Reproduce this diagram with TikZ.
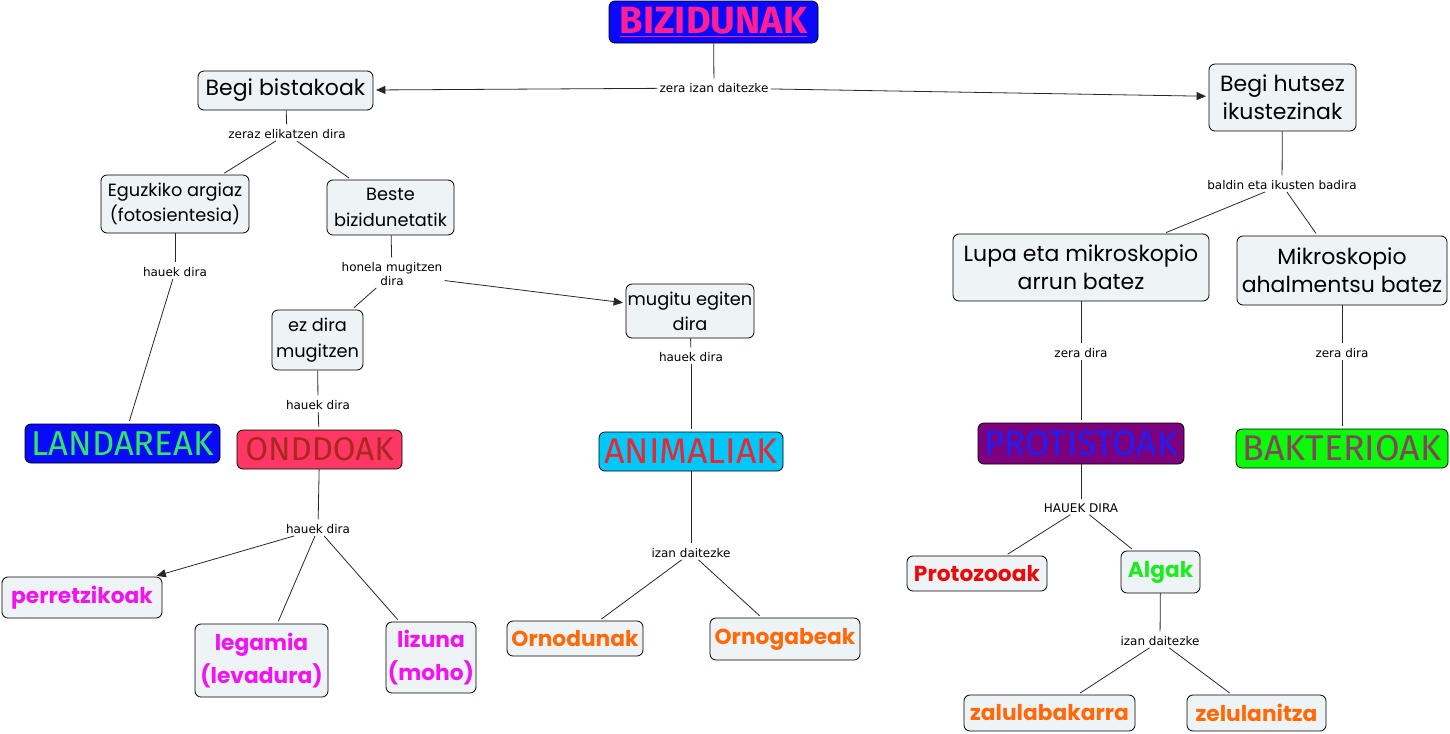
\documentclass[tikz,border=0pt]{standalone}
\usepackage{fontspec}
\setmainfont{Poppins}
\newfontfamily\lblfont{DejaVu Sans}
\newfontfamily\catfont{Fira Sans}
\usetikzlibrary{arrows.meta}
\definecolor{boxfill}{RGB}{238,243,246}
\definecolor{lnk}{RGB}{40,40,40}
\definecolor{bizpink}{RGB}{255,30,150}
\definecolor{purebl}{RGB}{10,10,250}
\definecolor{landgreen}{RGB}{50,230,100}
\definecolor{onddfill}{RGB}{255,55,100}
\definecolor{onddtext}{RGB}{170,40,30}
\definecolor{animfill}{RGB}{0,200,250}
\definecolor{animtext}{RGB}{230,40,50}
\definecolor{protfill}{RGB}{125,0,125}
\definecolor{prottext}{RGB}{30,30,250}
\definecolor{baktfill}{RGB}{10,250,10}
\definecolor{bakttext}{RGB}{130,70,90}
\definecolor{magtext}{RGB}{240,20,240}
\definecolor{redtext}{RGB}{235,10,10}
\definecolor{algtext}{RGB}{30,235,30}
\definecolor{orgtext}{RGB}{255,105,10}
\begin{document}
\begin{tikzpicture}[x=0.75pt,y=-0.75pt,
  base/.style={draw=black,line width=0.6pt,rounded corners=4.5pt,align=center,inner sep=0pt},
  lbox/.style={base,fill=boxfill,font=\fontsize{16.5}{21}\selectfont},
  mbox/.style={base,fill=boxfill,font=\fontsize{13.3}{19}\selectfont},
  sbox/.style={base,fill=boxfill,font=\bfseries\fontsize{16.3}{25}\selectfont},
  cat/.style={base,font=\catfont\fontsize{26}{30}\selectfont},
  lbl/.style={font=\lblfont\fontsize{9}{10.5}\selectfont,align=center,inner sep=1.5pt,text=black},
  con/.style={draw=lnk,line width=0.6pt,shorten >=2pt},
  arr/.style={con,-{Triangle[length=7pt,width=6pt]}}
]
\useasboundingbox (0,0) rectangle (1450,733);
% main nodes
\node[base,fill=purebl,text=bizpink,font=\catfont\bfseries\fontsize{28.5}{32}\selectfont,minimum width=156.75pt,minimum height=31.5pt] (biz) at (713.5,22) {\underline{BIZIDUNAK}};
\node[lbox,minimum width=131.25pt,minimum height=29.25pt] (bist) at (285.5,90.5) {Begi bistakoak};
\node[lbox,minimum width=110.25pt,minimum height=50.25pt] (hutsez) at (1282.5,97.5) {Begi hutsez\\ikustezinak};
\node[mbox,minimum width=111pt,minimum height=43.5pt] (eguz) at (175,204) {Eguzkiko argiaz\\(fotosientesia)};
\node[mbox,minimum width=95.25pt,minimum height=41.25pt] (beste) at (390.5,207.5) {Beste\\bizidunetatik};
\node[mbox,minimum width=68.25pt,minimum height=45pt] (ezdira) at (317.5,340) {ez dira\\mugitzen};
\node[mbox,minimum width=96pt,minimum height=40.5pt] (mugitu) at (690,311) {mugitu egiten\\dira};
\node[cat,fill=purebl,text=landgreen,font=\catfont\fontsize{25.9}{30}\selectfont,minimum width=146.25pt,minimum height=29.25pt] (land) at (122.5,443.5) {LANDAREAK};
\node[cat,fill=onddfill,text=onddtext,font=\catfont\fontsize{24.7}{30}\selectfont,minimum width=123.75pt,minimum height=29.25pt] (ondd) at (319.5,449.5) {ONDDOAK};
\node[cat,fill=animfill,text=animtext,font=\catfont\fontsize{26.8}{30}\selectfont,minimum width=138pt,minimum height=29.25pt] (anim) at (691,451.5) {ANIMALIAK};
\node[sbox,text=magtext,minimum width=120pt,minimum height=30.75pt] (perr) at (82,597.5) {perretzikoak};
\node[sbox,text=magtext,minimum width=99.75pt,minimum height=54.75pt] (leg) at (261.5,660.5) {legamia\\(levadura)};
\node[sbox,text=magtext,minimum width=67.5pt,minimum height=53.25pt] (liz) at (431,657.5) {lizuna\\(moho)};
\node[sbox,text=orgtext,minimum width=102pt,minimum height=26.25pt] (ornod) at (575,638.5) {Ornodunak};
\node[sbox,text=orgtext,minimum width=112.5pt,minimum height=31.5pt] (ornog) at (785,639) {Ornogabeak};
\node[lbox,minimum width=192pt,minimum height=50.25pt] (lupa) at (1081,267.5) {Lupa eta mikroskopio\\arrun batez};
\node[lbox,minimum width=157.5pt,minimum height=51.75pt] (mikro) at (1342,270.5) {Mikroskopio\\ahalmentsu batez};
\node[cat,fill=protfill,text=prottext,font=\catfont\fontsize{26.4}{30}\selectfont,minimum width=154.5pt,minimum height=30.75pt] (prot) at (1081,443.5) {PROTISTOAK};
\node[cat,fill=baktfill,text=bakttext,font=\catfont\fontsize{26.8}{30}\selectfont,minimum width=159pt,minimum height=29.25pt] (bakt) at (1342,448.5) {BAKTERIOAK};
\node[sbox,text=redtext,minimum width=105pt,minimum height=26.25pt] (protoz) at (977,573.5) {Protozooak};
\node[sbox,text=algtext,minimum width=59.25pt,minimum height=31.5pt] (algak) at (1160.5,572) {Algak};
\node[sbox,text=orgtext,minimum width=128.25pt,minimum height=27pt] (zalu) at (1049.5,713) {zalulabakarra};
\node[sbox,text=orgtext,minimum width=104.25pt,minimum height=27pt] (zelu) at (1256.5,713) {zelulanitza};
% link labels
\node[lbl] (l1) at (714,88) {zera izan daitezke};
\node[lbl] (l2) at (287,134) {zeraz elikatzen dira};
\node[lbl] (l3) at (175,272) {hauek dira};
\node[lbl] (l4) at (392,274) {honela mugitzen\\dira};
\node[lbl] (l5) at (318,405) {hauek dira};
\node[lbl] (l6) at (691,357) {hauek dira};
\node[lbl] (l7) at (318,529) {hauek dira};
\node[lbl] (l8) at (691,553) {izan daitezke};
\node[lbl] (l9) at (1282,185) {baldin eta ikusten badira};
\node[lbl] (l10) at (1081,353) {zera dira};
\node[lbl] (l11) at (1342,353) {zera dira};
\node[lbl] (l12) at (1081,508) {HAUEK DIRA};
\node[lbl] (l13) at (1160,641) {izan daitezke};
% connectors
\draw[con] (biz) -- (l1);
\draw[arr] (l1) -- (bist);
\draw[arr] (l1) -- (hutsez);
\draw[con] (bist) -- (l2);
\draw[con] (l2) -- (eguz);
\draw[con] (l2) -- (beste);
\draw[con] (eguz) -- (l3);
\draw[con] (l3) -- (land);
\draw[con] (beste) -- (l4);
\draw[con] (l4) -- (ezdira);
\draw[arr] (l4) -- (mugitu);
\draw[con] (ezdira) -- (l5);
\draw[con] (l5) -- (ondd);
\draw[con] (mugitu) -- (l6);
\draw[con] (l6) -- (anim);
\draw[con] (ondd) -- (l7);
\draw[arr] (l7) -- (perr);
\draw[con] (l7) -- (leg);
\draw[con] (l7) -- (liz);
\draw[con] (anim) -- (l8);
\draw[con] (l8) -- (ornod);
\draw[con] (l8) -- (ornog);
\draw[con] (hutsez) -- (l9);
\draw[con] (l9) -- (lupa);
\draw[con] (l9) -- (mikro);
\draw[con] (lupa) -- (l10);
\draw[con] (l10) -- (prot);
\draw[con] (mikro) -- (l11);
\draw[con] (l11) -- (bakt);
\draw[con] (prot) -- (l12);
\draw[con] (l12) -- (protoz);
\draw[con] (l12) -- (algak);
\draw[con] (algak) -- (l13);
\draw[con] (l13) -- (zalu);
\draw[con] (l13) -- (zelu);
\end{tikzpicture}
\end{document}
